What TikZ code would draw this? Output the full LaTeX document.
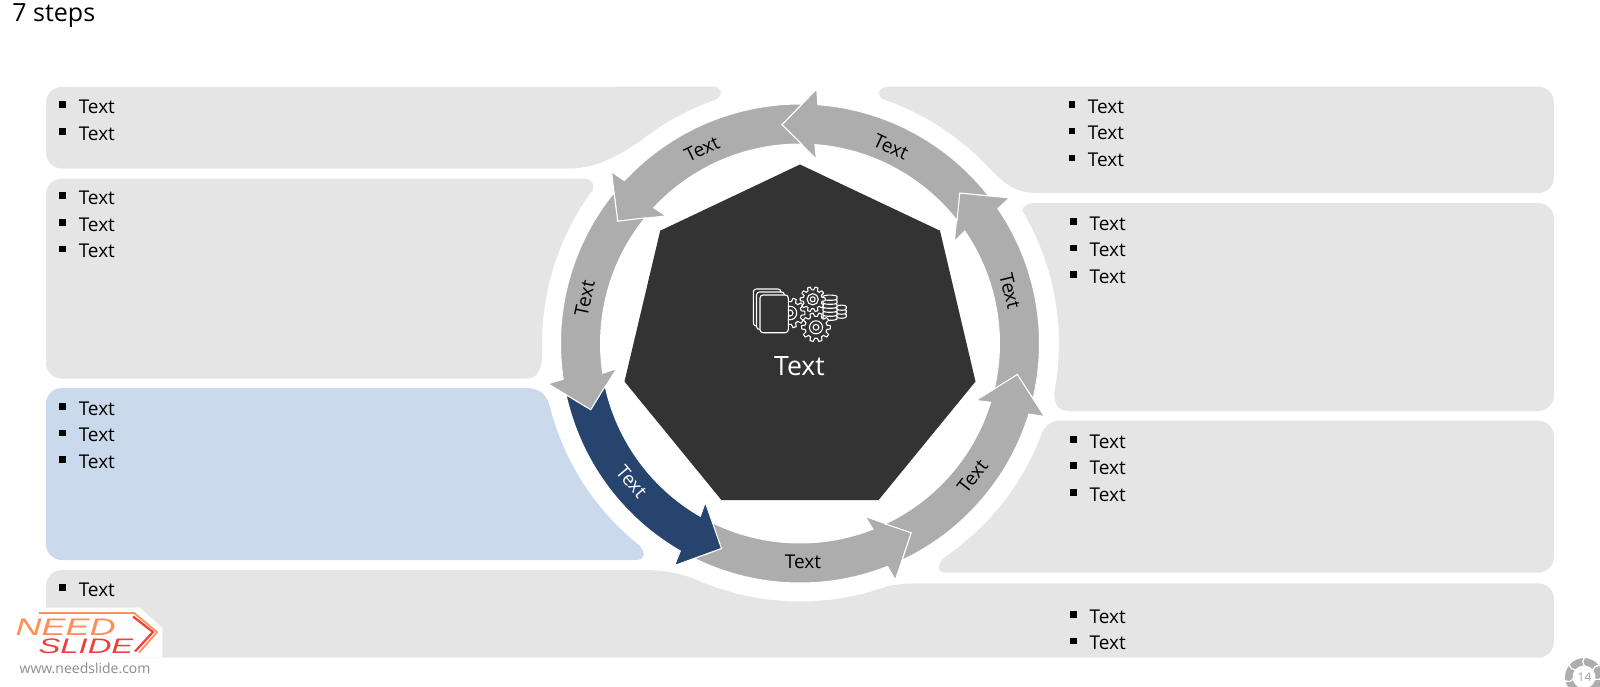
\documentclass[tikz,border=0pt]{standalone}
\usepackage{fontspec}
\setmainfont{Open Sans}
\newfontfamily\logofont{Liberation Sans}
\usetikzlibrary{calc}
\definecolor{boxgray}{HTML}{E5E5E5}
\definecolor{boxblue}{HTML}{CADAEC}
\definecolor{ringgray}{HTML}{ADADAD}
\definecolor{ringblue}{HTML}{27446E}
\definecolor{darkpent}{HTML}{333333}
\definecolor{logoorange}{HTML}{FF8F55}
\definecolor{logored}{HTML}{EE3E40}
\tikzset{
  panel/.style={fill=boxgray,draw=none},
  panelblue/.style={fill=boxblue,draw=none},
  itemtext/.style={anchor=base west,inner sep=0pt,font=\fontsize{9.5pt}{11pt}\selectfont,text=black},
  ringtext/.style={inner sep=0pt,font=\fontsize{9.5pt}{11pt}\selectfont,text=black},
  icon/.style={draw=white,line width=0.55pt,line join=round},
}
% tip angle, colour, outer, inner, centre, wing outer, wing inner
\newcommand\ringarrow[7]{%
  \fill[#2,draw=white,line width=0.5pt,line join=miter]
    ({#1-56.63}:#3) arc[start angle={#1-56.63},end angle={#1-9},radius=#3]
    -- ({#1-8.5}:#6) -- ({#1}:#5) -- ({#1-9.8}:#7) -- ({#1-9}:#4)
    arc[start angle={#1-9},end angle={#1-56.63},radius=#4]
    -- ({#1-51.43}:#5) -- cycle;}
\newcommand\btext[3]{%
  \fill[black] ({#1-3.3},{#2-12}) rectangle ({#1+3.3},{#2-5.4});
  \node[itemtext] (#3) at ({#1+15.7},#2) {Text};}
\newcommand\gearicon[4]{%
  \begin{scope}[shift={(#1,#2)}]
  \pgfmathsetmacro\gearst{360/#4}
  \pgfmathsetmacro\gearin{#3*0.76}
  \draw[icon,fill=darkpent] ({-0.18*\gearst}:#3)
    \foreach \k in {1,...,#4} {
      -- ({(\k-1+0.18)*\gearst}:#3) -- ({(\k-1+0.32)*\gearst}:\gearin)
      -- ({(\k-1+0.68)*\gearst}:\gearin) -- ({(\k-1+0.82)*\gearst}:#3)
    } -- cycle;
  \draw[icon] (0,0) circle[radius={#3*0.45}];
  \draw[icon] (0,0) circle[radius={#3*0.2}];
  \end{scope}}
\newcommand\coin[3]{%
  \draw[icon,fill=darkpent] (#1,#2) ++(-#3,0) -- ++(0,2.4)
    arc[start angle=180,end angle=0,x radius=#3,y radius=1.4] -- ++(0,-2.4)
    arc[start angle=0,end angle=-180,x radius=#3,y radius=1.4] -- cycle;}
\begin{document}
\begin{tikzpicture}[x=0.5pt,y=-0.5pt]
\clip (0,0) rectangle (1600,686);
\fill[white] (0,0) rectangle (1600,686);
\coordinate (c) at (800,343.5);

% panels
\path[panel] (46,103) arc[start angle=180,end angle=270,radius=16] -- (713,86.7)
  .. controls (722,86.7) and (724,95) .. ($(c)+(-109.2:258)$)
  arc[start angle=-109.2,end angle=-127,radius=258]
  .. controls (621,155.5) and (595,168.5) .. (570,168.5)
  -- (62,168.5) arc[start angle=90,end angle=180,radius=16] -- cycle;
\path[panel] (46,194.6) arc[start angle=180,end angle=270,radius=16] -- (583,178.6)
  .. controls (592,178.6) and (597,186) .. ($(c)+(-144.2:258)$)
  arc[start angle=-144.2,end angle=-182,radius=258]
  .. controls (542,370) and (538,378.6) .. (525,378.6)
  -- (62,378.6) arc[start angle=90,end angle=180,radius=16] -- cycle;
\path[panelblue] (46,404) arc[start angle=180,end angle=270,radius=16] -- (525,388)
  .. controls (540,388) and (547,395) .. ($(c)+(165.9:258)$)
  arc[start angle=165.9,end angle=128.5,radius=258]
  .. controls (646,553) and (645,560) .. (636,560)
  -- (62,560) arc[start angle=90,end angle=180,radius=16] -- cycle;
\path[panel] (46,586) arc[start angle=180,end angle=270,radius=16] -- (638,570)
  .. controls (660,570) and (675.6,571) .. ($(c)+(113.1:258)$)
  arc[start angle=113.1,end angle=70,radius=258]
  .. controls (902,583.5) and (910,583.3) .. (925,583.3)
  -- (1538,583.3) arc[start angle=-90,end angle=0,radius=16]
  -- (1554,641.7) arc[start angle=0,end angle=90,radius=16]
  -- (62,657.7) arc[start angle=90,end angle=180,radius=16] -- cycle;
\path[panel] (890,86.7) .. controls (878,86.7) and (876,95) .. ($(c)+(-71.1:258)$)
  arc[start angle=-71.1,end angle=-44,radius=258]
  .. controls (1005,184.5) and (1015,193) .. (1038,193)
  -- (1538,193) arc[start angle=90,end angle=0,radius=16]
  -- (1554,102.7) arc[start angle=0,end angle=-90,radius=16] -- cycle;
\path[panel] (1037,203) .. controls (1027,203) and (1022,206) .. ($(c)+(-30.8:259)$)
  arc[start angle=-30.8,end angle=11,radius=259]
  .. controls (1054,405) and (1059,411) .. (1069,411)
  -- (1538,411) arc[start angle=90,end angle=0,radius=16]
  -- (1554,219) arc[start angle=0,end angle=-90,radius=16] -- cycle;
\path[panel] (1062,420.5) .. controls (1052,420.5) and (1046,425) .. ($(c)+(20.2:258)$)
  arc[start angle=20.2,end angle=55.9,radius=258]
  .. controls (938,562.5) and (936,572.7) .. (945,572.7)
  -- (1538,572.7) arc[start angle=90,end angle=0,radius=16]
  -- (1554,436.5) arc[start angle=0,end angle=-90,radius=16] -- cycle;

% ring
\begin{scope}[shift={(800,343.5)},yscale=-1]
  \foreach \t in {43.3,94.73,146.16,197.59,300.45,351.88}
    {\ringarrow{\t}{ringgray}{239.5}{199.5}{219.5}{255}{185}}
  \ringarrow{249.02}{ringblue}{239.5}{199.5}{219.5}{255}{185}
\end{scope}

% heptagon
\fill[darkpent] (800,164.5) -- (940,230.7) -- (975.5,381.5) -- (878.6,500)
  -- (721.4,500) -- (624.5,381.5) -- (660.2,230.7) -- cycle;

% icon
\coin{841.5}{314.5}{4.7}\coin{841.5}{310.5}{4.7}\coin{841.5}{306.5}{4.7}
\foreach \yy in {316.5,312.5,308.5,304.5,300.5,296.5}{\coin{830}{\yy}{7}}
\gearicon{790}{313}{15}{10}
\draw[icon,fill=darkpent,rounded corners=1.5pt] (753.3,289) rectangle (781,326);
\draw[icon,fill=darkpent,rounded corners=1.5pt] (756.5,292) rectangle (784.5,329.5);
\draw[icon,fill=darkpent,rounded corners=1.5pt] (760,295) rectangle (788.3,332.7);
\gearicon{812.7}{299.3}{12.5}{10}
\gearicon{816}{327.3}{14.5}{10}
\node[inner sep=0pt,text=white,font=\fontsize{13.3pt}{15pt}\selectfont,anchor=base] (ctext) at (799.5,375) {Text};

% ring labels
\node[ringtext,rotate=-25] (r1) at (891,147) {Text};
\node[ringtext,rotate=-76] (r2) at (1010,291) {Text};
\node[ringtext,rotate=52] (r3) at (972.5,476.5) {Text};
\node[ringtext,rotate=0] (r4) at (803,561.5) {Text};
\node[ringtext,rotate=-50,text=white] (r5) at (631.6,481.6) {Text};
\node[ringtext,rotate=78] (r6) at (584.7,298) {Text};
\node[ringtext,rotate=26] (r7) at (702,149) {Text};

% bullets
\btext{62.7}{113.3}{a1}\btext{62.7}{140}{a2}
\btext{62.7}{204.3}{b1}\btext{62.7}{231.2}{b2}\btext{62.7}{257.8}{b3}
\btext{62.7}{415.2}{c1}\btext{62.7}{441.5}{c2}\btext{62.7}{468.2}{c3}
\btext{62.7}{596}{d1}
\btext{1071.8}{113}{e1}\btext{1071.8}{139.7}{e2}\btext{1071.8}{166.7}{e3}
\btext{1073.6}{230.4}{f1}\btext{1073.6}{256.7}{f2}\btext{1073.6}{283}{f3}
\btext{1073.6}{448}{g1}\btext{1073.6}{474.4}{g2}\btext{1073.6}{501}{g3}
\btext{1073.6}{623}{h1}\btext{1073.6}{649.7}{h2}

% title
\node[anchor=base west,inner sep=0pt,font=\fontsize{12.5pt}{15pt}\selectfont] (title) at (12,21.7) {7 steps};

% logo
\fill[white] (46,607.7) -- (140,607.7) -- (162.3,628) -- (162.3,657.7) -- (46,657.7) -- cycle;
\fill[white] (0,607.7) rectangle (46,686);
\draw[logoorange,line width=0.9pt,line join=round] (39,613) -- (134,613) -- (157,632) -- (139,652.7);
\draw[logored,line width=1.1pt,line join=round] (133,616.5) -- (153,632) -- (135,651.5);
\node[inner sep=0pt,anchor=base west,text=logoorange,xscale=1.5,font=\logofont\itshape\fontsize{12pt}{12pt}\selectfont] (need) at (15,635) {NEED};
\node[inner sep=0pt,anchor=base west,text=logored,xscale=1.56,font=\logofont\itshape\fontsize{10.5pt}{11pt}\selectfont] (slide) at (38,653) {SLIDE};
\node[inner sep=0pt,text={rgb,255:red,140;green,140;blue,140},font=\fontsize{7pt}{8pt}\selectfont] (web) at (85,668) {www.needslide.com};

% page mark
\begin{scope}[shift={(1584,677)},yscale=-1]
  \foreach \t in {43.3,94.73,146.16,197.59,249.02,300.45,351.88}
    {\ringarrow{\t}{ringgray}{19.5}{11}{15.3}{21}{9.5}}
\end{scope}
\node[inner sep=0pt,text={rgb,255:red,165;green,165;blue,165},font=\fontsize{6pt}{7pt}\selectfont] (pg) at (1584.5,677.5) {14};
\end{tikzpicture}
\end{document}
